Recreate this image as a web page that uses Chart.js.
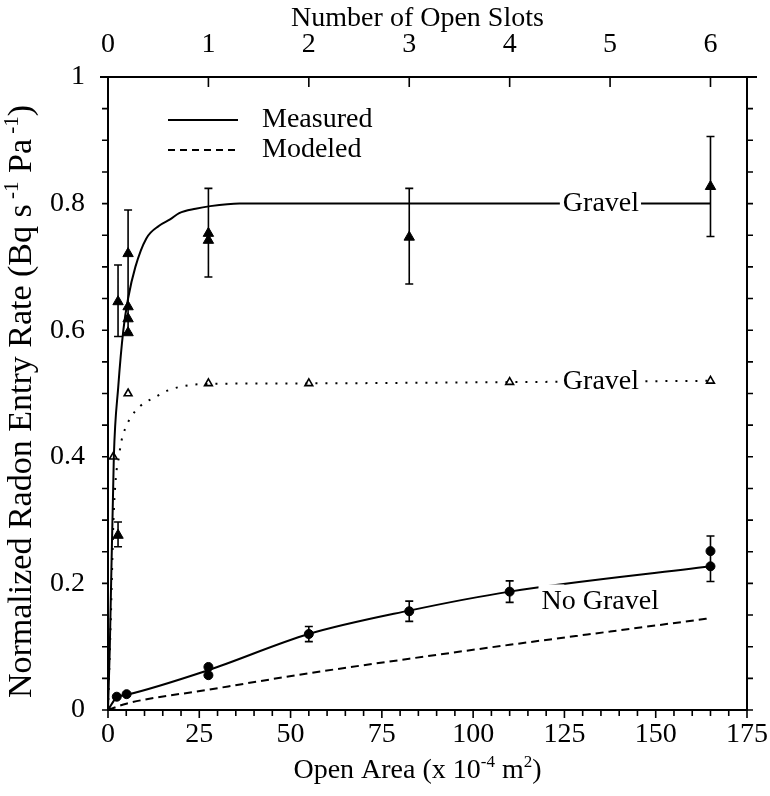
<!DOCTYPE html>
<html>
<head>
<meta charset="utf-8">
<script src="https://cdn.jsdelivr.net/npm/chart.js@4.4.1/dist/chart.umd.min.js"></script>
<style>
  html, body { margin: 0; padding: 0; background: #fff; }
  #wrap { width: 770px; height: 796px; }
</style>
</head>
<body>
<div id="wrap"><canvas id="c" width="770" height="796"></canvas></div>
<script>
// Open area of a single slot (x 10^-4 m^2); the top axis counts slots.
const SLOT_AREA = 27.5;

// Gravel bed, measured entry rates (filled triangles) with error-bar limits
const gravelMeasX  = [2.75, 2.75, 5.5, 5.5, 5.5, 5.5, 27.5, 27.5, 82.5, 165];
const gravelMeasY  = [0.276, 0.645, 0.721, 0.637, 0.618, 0.596, 0.753, 0.742, 0.747, 0.827];
const gravelMeasLo = [0.258, 0.590, 0.596, null, null, null, 0.684, null, 0.673, 0.748];
const gravelMeasHi = [0.297, 0.703, 0.790, null, null, null, 0.824, null, 0.824, 0.906];

// Gravel bed, curve through the measurements (solid)
const gravelFitX = [0, 0.5, 1.6, 2.8, 4.2, 5.5, 7.5, 10.5, 14, 17, 19.5, 24, 28, 36, 165];
const gravelFitY = [0, 0.10, 0.40, 0.51, 0.60, 0.65, 0.70, 0.745, 0.765, 0.775, 0.785, 0.792, 0.796, 0.80, 0.80];

// Gravel bed, modeled (open triangles and dotted curve)
const gravelModX = [0, 1.45, 5.5, 27.5, 55, 110, 165];
const gravelModY = [0, 0.40, 0.50, 0.516, 0.516, 0.518, 0.52];
const gravelModCurveX = [0, 0.8, 1.5, 2.2, 3, 3.5, 4.6, 6.2, 9, 12.8, 16.5, 21, 26.5, 55, 110, 165];
const gravelModCurveY = [0, 0.15, 0.30, 0.37, 0.40, 0.42, 0.443, 0.462, 0.481, 0.494, 0.505, 0.512, 0.515, 0.516, 0.518, 0.52];

// No gravel, measured (filled circles) with error-bar limits
const noGravelX  = [2.4, 5.1, 27.5, 27.5, 55, 82.5, 110, 165, 165];
const noGravelY  = [0.021, 0.025, 0.068, 0.055, 0.12, 0.156, 0.187, 0.251, 0.227];
const noGravelLo = [null, null, null, null, 0.108, 0.140, 0.170, 0.203, null];
const noGravelHi = [null, null, null, null, 0.132, 0.172, 0.204, 0.275, null];

// No gravel, curve through the measurements (solid)
const noGravelFitX = [0, 2.4, 5.1, 27.5, 55, 82.5, 110, 165];
const noGravelFitY = [0, 0.020, 0.024, 0.063, 0.12, 0.157, 0.187, 0.227];

// No gravel, modeled (dashed)
const noGravelModX = [0, 5, 27.5, 55, 82.5, 110, 137.5, 165];
const noGravelModY = [0, 0.010, 0.032, 0.058, 0.081, 0.103, 0.124, 0.145];

// Axis ranges and tick steps
const areaRange = [0, 175];
const areaMinorStep = 5;
const areaMajorStep = 25;
const rateRange = [0, 1];
const rateMinorStep = 0.05;
const rateMajorStep = 0.2;
const slotStep = 1;

// Curve annotations: text and the (area, rate) point it is centred on
const curveLabelText = ['Gravel', 'Gravel', 'No Gravel'];
const curveLabelX = [135, 135, 134.8];
const curveLabelY = [0.80, 0.518, 0.171];

const FONT = '"Liberation Serif", "Times New Roman", serif';
const FS = 28;
const TITLE_FS_Y = 34;

const pts = (xs, ys) => xs.map((x, i) => ({ x, y: ys[i] }));
const isMultiple = (v, step) => Math.abs(v / step - Math.round(v / step)) < 1e-6;

// Frame and tick marks (outward on left/bottom/right, inward on top)
const framePlugin = {
  id: 'frame',
  afterDraw(chart) {
    const { ctx, chartArea: a, scales } = chart;
    ctx.save();
    ctx.strokeStyle = '#000';
    ctx.lineWidth = 2;
    ctx.strokeRect(a.left, a.top, a.right - a.left, a.bottom - a.top);
    ctx.beginPath();
    ctx.moveTo(a.left - 8, a.top);
    ctx.lineTo(a.right + 10, a.top);
    ctx.stroke();
    ctx.lineWidth = 1.6;
    ctx.beginPath();
    scales.x.ticks.forEach(t => {
      const px = scales.x.getPixelForValue(t.value);
      const len = isMultiple(t.value, areaMajorStep) ? 8 : 6;
      ctx.moveTo(px, a.bottom);
      ctx.lineTo(px, a.bottom + len);
    });
    scales.y.ticks.forEach(t => {
      const py = scales.y.getPixelForValue(t.value);
      ctx.moveTo(a.left, py);
      ctx.lineTo(a.left - 6, py);
      ctx.moveTo(a.right, py);
      ctx.lineTo(a.right + 6, py);
    });
    scales.x2.ticks.forEach(t => {
      const px = scales.x2.getPixelForValue(t.value);
      ctx.moveTo(px, a.top);
      ctx.lineTo(px, a.top + 10);
    });
    ctx.stroke();
    ctx.restore();
  }
};

// Vertical error bars with caps
const errorBarPlugin = {
  id: 'errorBars',
  beforeDatasetsDraw(chart) {
    const { ctx, scales } = chart;
    const sets = [
      [gravelMeasX, gravelMeasLo, gravelMeasHi],
      [noGravelX, noGravelLo, noGravelHi]
    ];
    ctx.save();
    ctx.strokeStyle = '#000';
    ctx.lineWidth = 1.6;
    ctx.beginPath();
    sets.forEach(([xs, lo, hi]) => {
      xs.forEach((x, i) => {
        if (lo[i] == null || hi[i] == null) return;
        const px = scales.x.getPixelForValue(x);
        const p1 = scales.y.getPixelForValue(lo[i]);
        const p2 = scales.y.getPixelForValue(hi[i]);
        ctx.moveTo(px, p1); ctx.lineTo(px, p2);
        ctx.moveTo(px - 4, p1); ctx.lineTo(px + 4, p1);
        ctx.moveTo(px - 4, p2); ctx.lineTo(px + 4, p2);
      });
    });
    ctx.stroke();
    ctx.restore();
  }
};

function drawRich(ctx, parts, x, y, size) {
  // parts: [text, isSuperscript]; run centred on x, baseline at y
  const supSize = Math.round(size * 0.62);
  let total = 0;
  parts.forEach(([t, sup]) => {
    ctx.font = `${sup ? supSize : size}px ${FONT}`;
    total += ctx.measureText(t).width;
  });
  let cx = x - total / 2;
  ctx.textAlign = 'left';
  ctx.textBaseline = 'alphabetic';
  parts.forEach(([t, sup]) => {
    ctx.font = `${sup ? supSize : size}px ${FONT}`;
    ctx.fillText(t, cx, sup ? y - size * 0.38 : y);
    cx += ctx.measureText(t).width;
  });
}

// Axis titles, legend and curve annotations
const textPlugin = {
  id: 'texts',
  afterDatasetsDraw(chart) {
    const { ctx, scales, chartArea: a } = chart;
    ctx.save();
    ctx.fillStyle = '#000';

    // curve annotations, knocking out the line beneath the text
    ctx.font = `${FS}px ${FONT}`;
    ctx.textBaseline = 'middle';
    ctx.textAlign = 'center';
    curveLabelText.forEach((t, i) => {
      const px = scales.x.getPixelForValue(curveLabelX[i]);
      const py = scales.y.getPixelForValue(curveLabelY[i]);
      const w = ctx.measureText(t).width;
      // the lower label sits just under its curve and clips it at the left end
      const top = i === 2 ? FS * 0.62 : FS * 0.45;
      ctx.fillStyle = '#fff';
      ctx.fillRect(px - w / 2 - 3, py - top, w * 0.22, top + FS * 0.45);
      ctx.fillRect(px - w / 2 - 2, py - FS * 0.45, w + 4, FS * 0.9);
      ctx.fillStyle = '#000';
      ctx.fillText(t, px, py);
    });

    // legend
    ctx.strokeStyle = '#000';
    ctx.lineWidth = 2;
    ctx.beginPath();
    ctx.moveTo(168, 120); ctx.lineTo(238, 120);
    ctx.stroke();
    ctx.setLineDash([7, 5]);
    ctx.beginPath();
    ctx.moveTo(168, 150); ctx.lineTo(238, 150);
    ctx.stroke();
    ctx.setLineDash([]);
    ctx.textAlign = 'left';
    ctx.fillText('Measured', 262, 120);
    ctx.fillText('Modeled', 262, 150);

    // axis titles
    drawRich(ctx, [['Open Area (x 10', false], ['-4', true], [' m', false], ['2', true], [')', false]],
      (a.left + a.right) / 2 - 10, 778, FS);
    ctx.font = `${FS}px ${FONT}`;
    ctx.textAlign = 'center';
    ctx.textBaseline = 'alphabetic';
    ctx.fillText('Number of Open Slots', (a.left + a.right) / 2 - 10, 26);

    ctx.translate(31, (a.top + a.bottom) / 2 + 8);
    ctx.rotate(-Math.PI / 2);
    drawRich(ctx, [['Normalized Radon Entry Rate (Bq s', false], [' -1', true], [' Pa', false], [' -1', true], [')', false]],
      0, 0, TITLE_FS_Y);
    ctx.restore();
  }
};

const tickFont = { family: FONT, size: FS };

new Chart(document.getElementById('c'), {
  type: 'scatter',
  data: {
    datasets: [
      { label: 'Gravel measured curve', data: pts(gravelFitX, gravelFitY), showLine: true,
        borderColor: '#000', borderWidth: 2, pointRadius: 0, cubicInterpolationMode: 'monotone' },
      { label: 'Gravel modeled curve', data: pts(gravelModCurveX, gravelModCurveY), showLine: true,
        borderColor: '#000', borderWidth: 2, borderDash: [2, 8], pointRadius: 0, cubicInterpolationMode: 'monotone' },
      { label: 'No gravel measured curve', data: pts(noGravelFitX, noGravelFitY), showLine: true,
        borderColor: '#000', borderWidth: 2, pointRadius: 0, cubicInterpolationMode: 'monotone' },
      { label: 'No gravel modeled curve', data: pts(noGravelModX, noGravelModY), showLine: true,
        borderColor: '#000', borderWidth: 2, borderDash: [8, 5], pointRadius: 0, cubicInterpolationMode: 'monotone' },
      { label: 'Gravel measured', data: pts(gravelMeasX, gravelMeasY), showLine: false,
        pointStyle: 'triangle', pointRadius: 6, backgroundColor: '#000', borderColor: '#000', borderWidth: 1 },
      { label: 'Gravel modeled', data: pts(gravelModX, gravelModY), showLine: false,
        pointStyle: 'triangle', pointRadius: 4.5, backgroundColor: '#fff', borderColor: '#000', borderWidth: 1.6 },
      { label: 'No gravel measured', data: pts(noGravelX, noGravelY), showLine: false,
        pointStyle: 'circle', pointRadius: 4.5, backgroundColor: '#000', borderColor: '#000', borderWidth: 1 }
    ]
  },
  options: {
    responsive: false,
    animation: false,
    devicePixelRatio: 1,
    layout: { padding: { left: 0, right: 23, top: 0, bottom: 0 } },
    plugins: { legend: { display: false }, tooltip: { enabled: false } },
    scales: {
      x: {
        type: 'linear', position: 'bottom', min: areaRange[0], max: areaRange[1],
        grid: { display: false }, border: { display: false },
        afterFit: s => { s.height = 86; },
        ticks: { stepSize: areaMinorStep, autoSkip: false, maxRotation: 0, padding: 0,
          font: tickFont, color: '#000',
          callback: v => isMultiple(v, areaMajorStep) ? String(v) : '' }
      },
      x2: {
        type: 'linear', position: 'top', min: 0, max: areaRange[1] / SLOT_AREA,
        grid: { display: false }, border: { display: false },
        afterFit: s => { s.height = 77; },
        ticks: { stepSize: slotStep, includeBounds: false, autoSkip: false, maxRotation: 0, padding: 8,
          font: tickFont, color: '#000', callback: v => String(v) }
      },
      y: {
        type: 'linear', position: 'left', min: rateRange[0], max: rateRange[1],
        grid: { display: false }, border: { display: false },
        afterFit: s => { s.width = 108; },
        ticks: { stepSize: rateMinorStep, autoSkip: false, padding: 15,
          font: tickFont, color: '#000',
          callback: v => isMultiple(v, rateMajorStep) ? String(+v.toFixed(1)) : '' }
      }
    }
  },
  plugins: [errorBarPlugin, textPlugin, framePlugin]
});
</script>
</body>
</html>
